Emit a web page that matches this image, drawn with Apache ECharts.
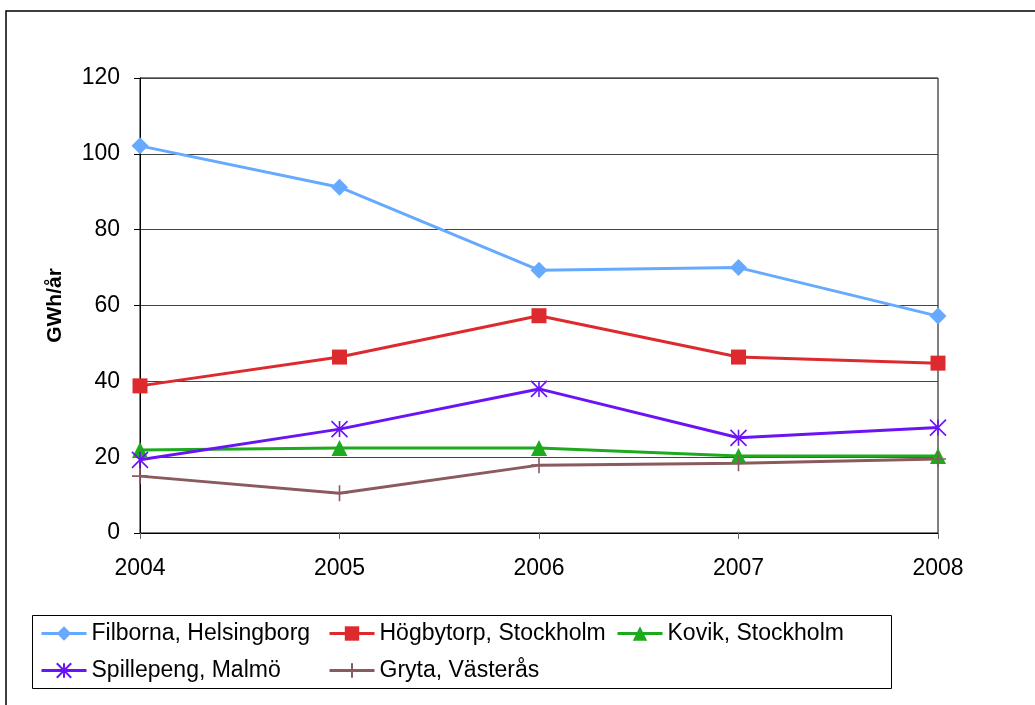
<!DOCTYPE html>
<html>
<head>
<meta charset="utf-8">
<script src="https://cdn.jsdelivr.net/npm/echarts@6/dist/echarts.min.js"></script>
<style>
  html, body { margin: 0; padding: 0; background: #fff; }
  #chart { width: 1035px; height: 705px; }
</style>
</head>
<body>
<div id="chart"></div>
<script>
// Years on the x axis
const years = ['2004', '2005', '2006', '2007', '2008'];

// Annual energy per plant, GWh/år
const filborna = [102.1, 91.2, 69.3, 70.0, 57.2];
const hogbytorp = [38.8, 46.4, 57.3, 46.4, 44.8];
const kovik = [21.9, 22.4, 22.4, 20.3, 20.3];
const spillepeng = [19.3, 27.4, 38.0, 25.1, 27.8];
const gryta = [15.0, 10.5, 17.9, 18.4, 19.5];

const seriesNames = [
  'Filborna, Helsingborg',
  'Högbytorp, Stockholm',
  'Kovik, Stockholm',
  'Spillepeng, Malmö',
  'Gryta, Västerås'
];

const FONT = '"Liberation Sans", Arial, sans-serif';

// Line-only markers: asterisk (X plus vertical bar) and plus sign
const starPath = 'path://M0,0 L10,10 M10,0 L0,10 M5,0 L5,10';
const plusPath = 'path://M5,0 L5,10 M0,5 L10,5';

function lineSeries(name, data, color, symbol, size, strokeOnly) {
  return {
    name: name,
    type: 'line',
    data: data,
    symbol: symbol,
    symbolSize: size,
    showAllSymbol: true,
    lineStyle: { color: color, width: 3 },
    itemStyle: strokeOnly
      ? { color: color, borderColor: color, borderWidth: 1.6 }
      : { color: color, borderWidth: 0 },
    emphasis: { disabled: true },
    animation: false
  };
}

function legendAt(name, left, top) {
  return {
    data: [name],
    left: left,
    top: top,
    itemWidth: 45,
    itemHeight: 18,
    itemGap: 0,
    padding: 0,
    lineStyle: { width: 3 },
    textStyle: { fontFamily: FONT, fontSize: 23, color: '#000', padding: [0, 0, 0, 0] },
    selectedMode: false
  };
}

const chart = echarts.init(document.getElementById('chart'), null, { renderer: 'canvas' });

chart.setOption({
  backgroundColor: '#fff',
  animation: false,
  graphic: [
    {
      type: 'rect',
      shape: { x: 6, y: 11, width: 1200, height: 900 },
      style: { fill: 'none', stroke: '#000', lineWidth: 1.5 },
      z: -10,
      silent: true
    },
    {
      type: 'rect',
      shape: { x: 32.5, y: 615.5, width: 859, height: 73 },
      style: { fill: 'none', stroke: '#000', lineWidth: 1 },
      z: -10,
      silent: true
    }
  ],
  legend: [
    legendAt(seriesNames[0], 40, 622),
    legendAt(seriesNames[1], 328, 622),
    legendAt(seriesNames[2], 616, 622),
    legendAt(seriesNames[3], 40, 659),
    legendAt(seriesNames[4], 328, 659)
  ],
  grid: {
    left: 140,
    right: 97,
    top: 78,
    bottom: 172,
    show: true,
    borderColor: '#000',
    borderWidth: 1,
    backgroundColor: 'transparent'
  },
  xAxis: {
    type: 'category',
    data: years,
    boundaryGap: false,
    axisLine: { lineStyle: { color: '#000', width: 1 } },
    axisTick: { show: true, length: 6, alignWithLabel: true, lineStyle: { color: '#666' } },
    axisLabel: { fontFamily: FONT, fontSize: 23, color: '#000', margin: 24 },
    splitLine: { show: false }
  },
  yAxis: {
    type: 'value',
    min: 0,
    max: 120,
    interval: 20,
    name: 'GWh/år',
    nameLocation: 'middle',
    nameRotate: 90,
    nameGap: 74,
    nameTextStyle: { fontFamily: FONT, fontSize: 21, fontWeight: 'bold', color: '#000' },
    axisLine: { show: true, lineStyle: { color: '#000', width: 1 } },
    axisTick: { show: true, length: 6, lineStyle: { color: '#000' } },
    axisLabel: { fontFamily: FONT, fontSize: 23, color: '#000', margin: 20 },
    splitLine: { show: true, lineStyle: { color: '#444', width: 1 } }
  },
  series: [
    lineSeries(seriesNames[0], filborna, '#66AAFF', 'diamond', 17, false),
    lineSeries(seriesNames[1], hogbytorp, '#DD2A2F', 'rect', 15, false),
    lineSeries(seriesNames[2], kovik, '#1DAA1D', 'triangle', 16, false),
    lineSeries(seriesNames[3], spillepeng, '#6A14F5', starPath, 16, true),
    lineSeries(seriesNames[4], gryta, '#8A5A5E', plusPath, 16, true)
  ]
});
</script>
</body>
</html>
